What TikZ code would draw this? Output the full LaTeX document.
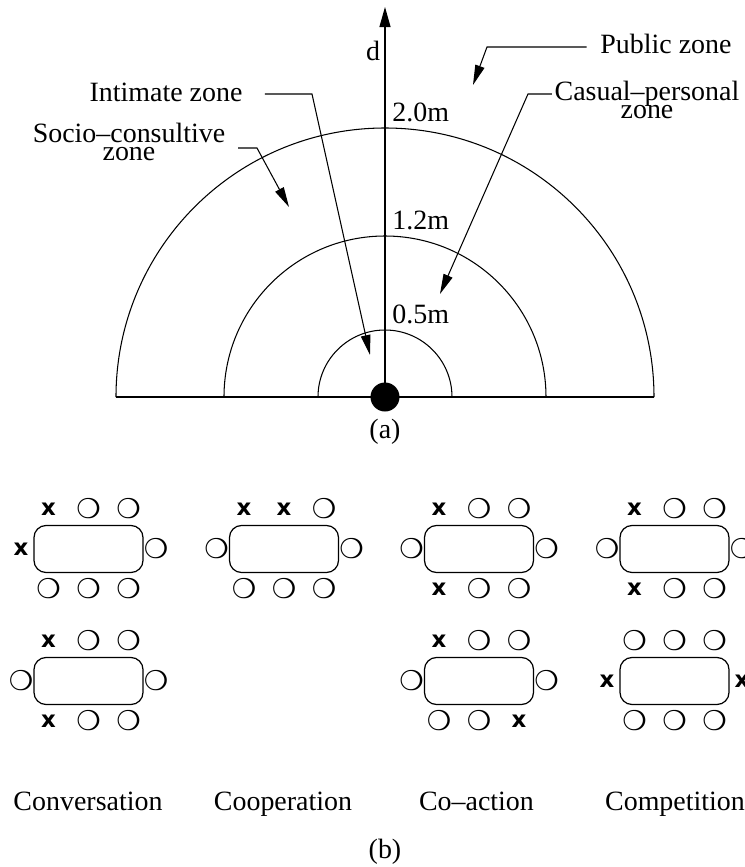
\documentclass[tikz,border=0pt]{standalone}
\usepackage{fontspec}
\setmainfont{Liberation Serif}
\newfontfamily\seatfont{DejaVu Sans}
\usepackage{tikz}
\usetikzlibrary{arrows.meta, positioning}

\newcommand\zonefont{\fontsize{15.9}{10.3}\selectfont\lineskiplimit=-100pt\relax}
\newcommand\seatx{{\fontsize{13}{13}\selectfont\bfseries x}}
\newcommand\seato{{\fontsize{15.5}{15.5}\selectfont ❍}}

\begin{document}
\begin{tikzpicture}[
  zonetext/.style={inner sep=0pt, align=center, font=\zonefont},
  zonearc/.style={line width=0.6pt},
  lead/.style={-{Triangle[length=0.4cm, width=0.19cm]}, line width=0.6pt},
  axis/.style={-{Triangle[length=0.4cm, width=0.22cm]}, line width=0.6pt},
  tablebox/.style={draw, rounded corners=0.24cm, minimum width=2.18cm,
    minimum height=0.94cm, inner sep=0pt, line width=0.7pt},
  seat/.style={inner sep=0pt, font=\seatfont}
]
  \useasboundingbox (-7.7,-9.4) rectangle (7.2,7.94);

  %% (a) zones round the person
  \draw[zonearc] (-5.38,0) -- (5.38,0);
  \draw[zonearc] (5.38,0) arc[start angle=0, end angle=180, radius=5.38];
  \draw[zonearc] (3.22,0) arc[start angle=0, end angle=180, radius=3.22];
  \draw[zonearc] (1.34,0) arc[start angle=0, end angle=180, radius=1.34];

  \coordinate (top) at (0,7.8);
  \node[circle, fill, minimum size=0.58cm, inner sep=0pt] (P) at (0,0) {};
  \draw[axis] (P.center) -- (top);
  \node[zonetext, anchor=base] (d) at (-0.24,6.74) {d};

  \node[zonetext, anchor=base west] (r20) at (0.14,5.52) {2.0m};
  \node[zonetext, anchor=base west] (r12) at (0.14,3.36) {1.2m};
  \node[zonetext, anchor=base west] (r05) at (0.14,1.48) {0.5m};

  \node[zonetext, anchor=base] (pub) at (5.62,6.88) {Public zone};
  \node[zonetext] (cas) at (5.24,5.94) {Casual--personal\\zone};
  \node[zonetext, anchor=base] (int) at (-4.38,5.92) {Intimate zone};
  \node[zonetext] (soc) at (-5.12,5.10) {Socio--consultive\\zone};

  \coordinate (pubB) at (2.04,7.0);
  \coordinate (pubT) at (1.76,6.24);
  \coordinate (casB) at (2.86,6.06);
  \coordinate (casT) at (1.10,2.06);
  \coordinate (intB) at (-1.46,6.06);
  \coordinate (intT) at (-0.30,0.84);
  \coordinate (socB) at (-2.56,4.98);
  \coordinate (socT) at (-1.92,3.80);

  %% leaders from the names into the zones
  \draw[lead] ([xshift=-0.27cm, yshift=0.12cm]pub.base west) -- (pubB) -- (pubT);
  \draw[lead] ([xshift=-0.05cm, yshift=0.12cm]cas.west) -- (casB) -- (casT);
  \draw[lead] ([xshift=0.44cm, yshift=0.14cm]int.base east) -- (intB) -- (intT);
  \draw[lead] ([xshift=0.25cm, yshift=-0.12cm]soc.east) -- (socB) -- (socT);

  \node[zonetext] (capa) at (0,-0.7) {(a)};

  %% (b) seats round the tables
  \foreach \nm/\cx/\cy/\pA/\pB/\pC/\pL/\pR/\qA/\qB/\qC in {
      conv1/-5.93/-3.04/\seatx/\seato/\seato/\seatx/\seato/\seato/\seato/\seato,
      conv2/-5.93/-5.68/\seatx/\seato/\seato/\seato/\seato/\seatx/\seato/\seato,
      coop1/-2.02/-3.04/\seatx/\seatx/\seato/\seato/\seato/\seato/\seato/\seato,
      coact1/1.88/-3.04/\seatx/\seato/\seato/\seato/\seato/\seatx/\seato/\seato,
      coact2/1.88/-5.68/\seatx/\seato/\seato/\seato/\seato/\seato/\seato/\seatx,
      comp1/5.79/-3.04/\seatx/\seato/\seato/\seato/\seato/\seatx/\seato/\seato,
      comp2/5.79/-5.68/\seato/\seato/\seato/\seatx/\seatx/\seato/\seato/\seato} {
    \node[tablebox] (\nm) at (\cx,\cy) {};
    \node[seat] (\nm-a) at ([shift={(-0.8,0.8)}]\nm.center) {\pA};
    \node[seat] (\nm-b) at ([shift={(0,0.8)}]\nm.center) {\pB};
    \node[seat] (\nm-c) at ([shift={(0.8,0.8)}]\nm.center) {\pC};
    \node[seat] (\nm-l) at ([shift={(-1.35,0)}]\nm.center) {\pL};
    \node[seat] (\nm-r) at ([shift={(1.35,0)}]\nm.center) {\pR};
    \node[seat] (\nm-d) at ([shift={(-0.8,-0.8)}]\nm.center) {\qA};
    \node[seat] (\nm-e) at ([shift={(0,-0.8)}]\nm.center) {\qB};
    \node[seat] (\nm-f) at ([shift={(0.8,-0.8)}]\nm.center) {\qC};
  }

  \node[zonetext, anchor=base] (conv) at (-5.94,-8.26) {Conversation};
  \node[zonetext, anchor=base] (coop) at (-2.04,-8.26) {Cooperation};
  \node[zonetext, anchor=base] (coact) at (1.83,-8.26) {Co--action};
  \node[zonetext, anchor=base] (comp) at (5.80,-8.26) {Competition};

  \node[zonetext] (capb) at (0,-9.1) {(b)};
\end{tikzpicture}
\end{document}
